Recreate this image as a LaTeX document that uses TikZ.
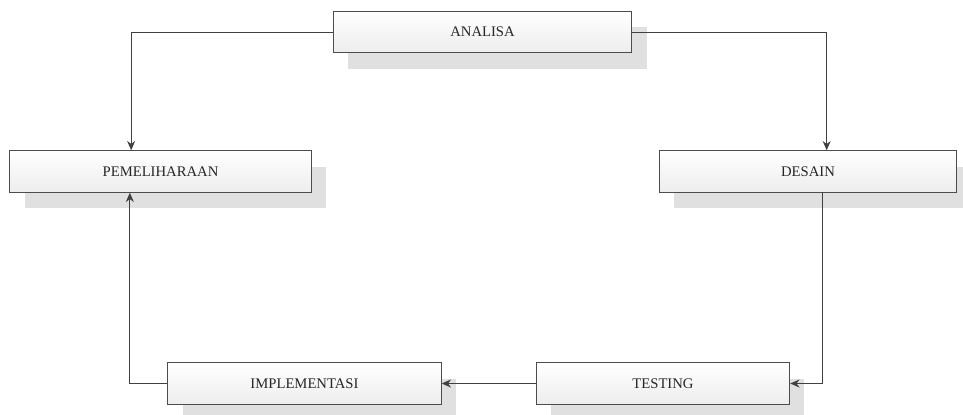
\documentclass[tikz,border=0pt]{standalone}
\usepackage{fontspec}
\setmainfont{Liberation Serif}
\usetikzlibrary{arrows.meta, shadows}

\begin{document}
\begin{tikzpicture}[
    x=0.75pt, y=-0.75pt,
    box/.style={
        rectangle,
        draw=black!70,
        line width=0.8pt,
        top color=white,
        bottom color=black!7,
        text=black!85,
        minimum height=31pt,
        inner sep=0pt,
        align=center,
        drop shadow={shadow xshift=11pt, shadow yshift=-12pt, fill=black!12, opacity=1}
    },
    link/.style={draw=black!75, line width=0.7pt},
    >={Stealth[length=7pt, width=6pt]},
    every node/.style={font=\fontsize{11}{13}\selectfont}
]
\useasboundingbox (0,0) rectangle (963,414);

\node[box, minimum width=224pt] (analisa) at (482.5,32) {ANALISA};
\node[box, minimum width=226pt] (pemeliharaan) at (160.5,171.5) {PEMELIHARAAN};
\node[box, minimum width=223pt] (desain) at (808,171.5) {DESAIN};
\node[box, minimum width=205pt] (implementasi) at (304.5,383.5) {IMPLEMENTASI};
\node[box, minimum width=190pt] (testing) at (663,383.5) {TESTING};

\draw[link, ->] (analisa.west) -| ([xshift=-22pt]pemeliharaan.north);
\draw[link, ->] (analisa.east) -| ([xshift=14pt]desain.north);
\draw[link, ->] ([xshift=11pt]desain.south) |- (testing.east);
\draw[link, ->] (testing.west) -- (implementasi.east);
\draw[link, ->] (implementasi.west) -| ([xshift=-23pt]pemeliharaan.south);

\end{tikzpicture}
\end{document}
